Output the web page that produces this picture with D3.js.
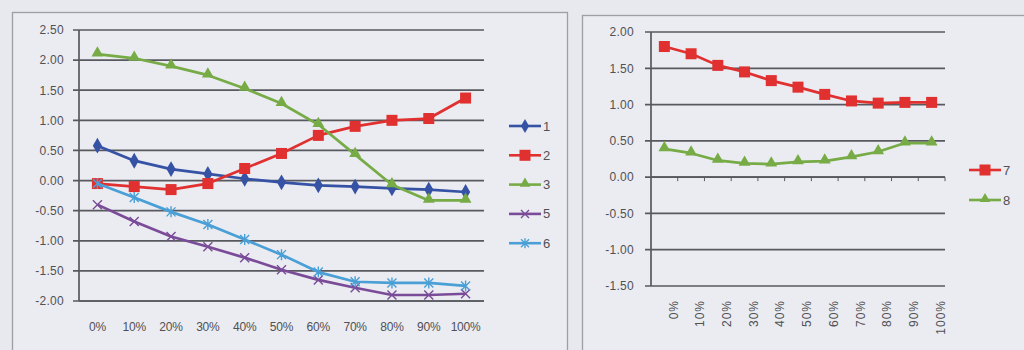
<!DOCTYPE html>
<html>
<head>
<meta charset="utf-8">
<script src="https://cdn.jsdelivr.net/npm/d3@7"></script>
<style>
  html, body { margin: 0; padding: 0; background: #e8e9ef; }
  svg { display: block; }
  text { font-family: "Liberation Sans", Arial, sans-serif; fill: #505055; }
</style>
</head>
<body>
<svg id="chart" width="1024" height="350"></svg>
<script>
// Categories shared by both panels
const categories = ["0%", "10%", "20%", "30%", "40%", "50%", "60%", "70%", "80%", "90%", "100%"];

// Left panel series
const s1 = [0.58, 0.33, 0.19, 0.11, 0.03, -0.03, -0.08, -0.10, -0.13, -0.15, -0.19];
const s2 = [-0.05, -0.10, -0.15, -0.05, 0.20, 0.45, 0.75, 0.90, 1.00, 1.03, 1.37];
const s3 = [2.10, 2.03, 1.90, 1.75, 1.53, 1.28, 0.93, 0.43, -0.07, -0.33, -0.33];
const s5 = [-0.40, -0.68, -0.93, -1.10, -1.28, -1.48, -1.65, -1.78, -1.90, -1.90, -1.88];
const s6 = [-0.05, -0.28, -0.52, -0.73, -0.98, -1.23, -1.52, -1.68, -1.70, -1.70, -1.75];

// Right panel series
const s7 = [1.80, 1.70, 1.54, 1.45, 1.33, 1.24, 1.14, 1.05, 1.02, 1.03, 1.03];
const s8 = [0.39, 0.33, 0.23, 0.19, 0.18, 0.21, 0.22, 0.28, 0.35, 0.47, 0.47];

const leftTicks = [2.5, 2.0, 1.5, 1.0, 0.5, 0.0, -0.5, -1.0, -1.5, -2.0];
const rightTicks = [2.0, 1.5, 1.0, 0.5, 0.0, -0.5, -1.0, -1.5];

const leftSeries = [
  { name: "1", values: s1, color: "#3552a5", marker: "diamond" },
  { name: "2", values: s2, color: "#e0302f", marker: "square" },
  { name: "3", values: s3, color: "#76ab46", marker: "triangle" },
  { name: "5", values: s5, color: "#7a4b98", marker: "x" },
  { name: "6", values: s6, color: "#4a9fd6", marker: "star" }
];
const rightSeries = [
  { name: "7", values: s7, color: "#e0302f", marker: "square" },
  { name: "8", values: s8, color: "#76ab46", marker: "triangle" }
];

const svg = d3.select("#chart");

// Panel frames
svg.append("rect").attr("x", 12.5).attr("y", 12.5).attr("width", 555).attr("height", 350)
  .attr("fill", "#ebecf1").attr("stroke", "#9d9ea6").attr("stroke-width", 1.3);
svg.append("rect").attr("x", 582.5).attr("y", 15.5).attr("width", 460).attr("height", 350)
  .attr("fill", "#ebecf1").attr("stroke", "#9d9ea6").attr("stroke-width", 1.3);

// two-decimal labels with a plain hyphen for negatives
const fmt = d => d3.format(".2f")(d).replace("\u2212", "-");

function drawMarker(g, type, x, y, color, size) {
  const s = size;
  if (type === "diamond") {
    g.append("path").attr("d", d3.symbol(d3.symbolDiamond, s * s * 0.9)())
      .attr("transform", `translate(${x},${y})`).attr("fill", color);
  } else if (type === "square") {
    g.append("rect").attr("x", x - s / 2).attr("y", y - s / 2).attr("width", s).attr("height", s)
      .attr("fill", color);
  } else if (type === "triangle") {
    g.append("path").attr("d", d3.symbol(d3.symbolTriangle, s * s * 0.75)())
      .attr("transform", `translate(${x},${y - 1})`).attr("fill", color);
  } else if (type === "x") {
    const h = s / 2;
    g.append("path").attr("d", `M${x - h},${y - h}L${x + h},${y + h}M${x - h},${y + h}L${x + h},${y - h}`)
      .attr("stroke", color).attr("stroke-width", 1.4);
  } else if (type === "star") {
    const h = s / 2;
    g.append("path").attr("d", `M${x - h},${y - h}L${x + h},${y + h}M${x - h},${y + h}L${x + h},${y - h}M${x},${y - h - 1}L${x},${y + h + 1}`)
      .attr("stroke", color).attr("stroke-width", 1.4);
  }
}

function drawPanel(opts) {
  const g = svg.append("g");
  const x = d3.scaleBand().domain(categories).range([opts.left, opts.right]);
  const y = d3.scaleLinear().domain(opts.domain).range([opts.bottom, opts.top]);

  // horizontal gridlines with tick stubs
  g.selectAll("line.grid").data(opts.ticks).join("line")
    .attr("x1", opts.left - 6).attr("x2", opts.right)
    .attr("y1", d => y(d)).attr("y2", d => y(d))
    .attr("stroke", "#58595f").attr("stroke-width", 1.7);

  // value axis labels
  const yAxis = d3.axisLeft(y).tickValues(opts.ticks).tickFormat(fmt).tickSize(0).tickPadding(0);
  const ya = g.append("g").attr("transform", `translate(${opts.labelX},0)`).call(yAxis);
  ya.select(".domain").remove();
  ya.selectAll("text").attr("font-size", 12).attr("fill", "#505055")
    .style("font-family", "Liberation Sans, Arial, sans-serif").style("letter-spacing", "0.3px");

  g.append("line").attr("x1", opts.left).attr("x2", opts.left)
    .attr("y1", y(opts.domain[1])).attr("y2", y(opts.domain[0]))
    .attr("stroke", "#58595f").attr("stroke-width", 1.7);

  // category axis line
  const axisY = y(opts.crossAt);
  g.append("line").attr("x1", opts.left).attr("x2", opts.right)
    .attr("y1", axisY).attr("y2", axisY)
    .attr("stroke", "#58595f").attr("stroke-width", 1.7);
  if (opts.catTicks) {
    categories.forEach(c => {
      const tx = x(c) + x.bandwidth();
      g.append("line").attr("x1", tx).attr("x2", tx).attr("y1", axisY).attr("y2", axisY + 4)
        .attr("stroke", "#58595f").attr("stroke-width", 1);
    });
  }

  // category labels
  if (opts.rotated) {
    g.selectAll("text.cat").data(categories).join("text")
      .attr("transform", d => `translate(${x(d) + x.bandwidth() / 2 + 9},${opts.catLabelY}) rotate(-90)`)
      .attr("text-anchor", "end").attr("dy", "0.35em")
      .attr("font-size", 12).style("letter-spacing", "1px").text(d => d);
  } else {
    g.selectAll("text.cat").data(categories).join("text")
      .attr("x", d => x(d) + x.bandwidth() / 2).attr("y", opts.catLabelY)
      .attr("text-anchor", "middle").attr("font-size", 12).style("letter-spacing", "-0.2px").text(d => d);
  }

  // series
  const line = d3.line().x((d, i) => x(categories[i]) + x.bandwidth() / 2).y(d => y(d));
  opts.series.forEach(s => {
    g.append("path").datum(s.values).attr("d", line)
      .attr("fill", "none").attr("stroke", s.color).attr("stroke-width", 2.7)
      .attr("stroke-linejoin", "round");
    s.values.forEach((v, i) => {
      drawMarker(g, s.marker, x(categories[i]) + x.bandwidth() / 2, y(v), s.color,
        s.marker === "square" ? 11 : 9);
    });
  });

  // legend
  opts.series.forEach((s, i) => {
    const ly = opts.legendY + i * opts.legendStep;
    g.append("line").attr("x1", opts.legendX).attr("x2", opts.legendX + 32)
      .attr("y1", ly).attr("y2", ly).attr("stroke", s.color).attr("stroke-width", 2.6);
    drawMarker(g, s.marker, opts.legendX + 16, ly, s.color, s.marker === "square" ? 11 : 8);
    g.append("text").attr("x", opts.legendX + 34).attr("y", ly).attr("dy", "0.35em")
      .attr("font-size", 13).text(s.name);
  });
}

drawPanel({
  left: 79, right: 484, top: 30, bottom: 301, domain: [-2, 2.5],
  ticks: leftTicks, labelX: 64, crossAt: -2, catTicks: false,
  rotated: false, catLabelY: 331, series: leftSeries,
  legendX: 509, legendY: 126, legendStep: 29.3
});

drawPanel({
  left: 651, right: 945, top: 32, bottom: 286, domain: [-1.5, 2.0],
  ticks: rightTicks, labelX: 634, crossAt: 0, catTicks: true,
  rotated: true, catLabelY: 300, series: rightSeries,
  legendX: 969, legendY: 170, legendStep: 30
});
</script>
</body>
</html>
